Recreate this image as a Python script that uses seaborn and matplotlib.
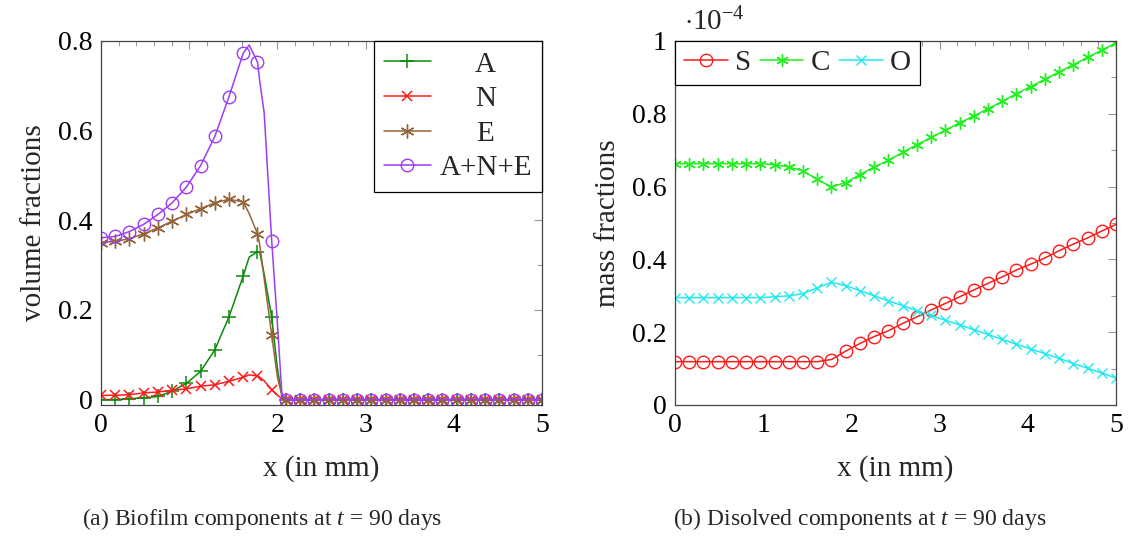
import numpy as np
import matplotlib
matplotlib.use('Agg')
import matplotlib.pyplot as plt
import seaborn as sns
from matplotlib.lines import Line2D

# marker positions shared by all series (32 points from 0 to 5 mm)
x_mark = [5 * i / 31 for i in range(32)]
zeros19 = [0.0] * 19

# (a) biofilm volume fractions at the markers
vol_A = [0.0, 0.0, 0.002, 0.004, 0.007, 0.019, 0.036, 0.063, 0.111, 0.185, 0.276, 0.330, 0.184] + zeros19
vol_N = [0.0096, 0.0096, 0.011, 0.015, 0.017, 0.021, 0.024, 0.030, 0.033, 0.041, 0.050, 0.053, 0.022] + zeros19
vol_E = [0.350, 0.353, 0.359, 0.370, 0.383, 0.398, 0.413, 0.426, 0.439, 0.447, 0.441, 0.370, 0.144] + zeros19
vol_T = [0.361, 0.364, 0.375, 0.391, 0.413, 0.439, 0.474, 0.522, 0.587, 0.676, 0.773, 0.753, 0.354] + zeros19

# extra curve points between markers (read where the curves bend)
extra_x = [1.68, 1.80, 1.85, 2.00, 2.05]
extra_A = [0.318, 0.328, 0.280, 0.070, 0.010]
extra_N = [0.055, 0.050, 0.042, 0.010, 0.002]
extra_E = [0.415, 0.345, 0.270, 0.050, 0.010]
extra_T = [0.791, 0.710, 0.640, 0.170, 0.015]

# (b) dissolved mass fractions, in units of 1e-4
mass_S = [0.119] * 11 + [0.125, 0.148, 0.169, 0.188, 0.204, 0.224, 0.242, 0.261, 0.279, 0.297,
                         0.316, 0.334, 0.352, 0.371, 0.387, 0.404, 0.424, 0.442, 0.459, 0.478, 0.496]
mass_C = [0.663] * 7 + [0.660, 0.654, 0.643, 0.620, 0.599, 0.611, 0.633, 0.654, 0.672, 0.694, 0.715,
                        0.735, 0.755, 0.775, 0.794, 0.814, 0.834, 0.855, 0.875, 0.895, 0.915, 0.935,
                        0.955, 0.975, 0.995]
mass_O = [0.295] * 7 + [0.297, 0.300, 0.306, 0.322, 0.337, 0.328, 0.314, 0.300, 0.286, 0.273, 0.259,
                        0.246, 0.233, 0.220, 0.207, 0.194, 0.180, 0.167, 0.154, 0.141, 0.128, 0.114,
                        0.101, 0.088, 0.074]

sns.set_theme(style='white')
plt.rcParams['font.family'] = ['Liberation Serif', 'DejaVu Serif']
plt.rcParams['mathtext.fontset'] = 'custom'
plt.rcParams['mathtext.rm'] = 'Liberation Serif'
plt.rcParams['mathtext.it'] = 'Liberation Serif:italic'

asterisk = (6, 2, 0)
FS = 20    # tick labels
LFS = 21   # axis labels and legends

fig = plt.figure(figsize=(11.31, 5.39), dpi=100)
ax1 = fig.add_axes([101 / 1131, 1 - 405 / 539, 441 / 1131, 364 / 539])
ax2 = fig.add_axes([675 / 1131, 1 - 405 / 539, 441 / 1131, 364 / 539])


def style_axes(ax):
    for s in ax.spines.values():
        s.set_color('#444444')
        s.set_linewidth(0.9)
    ax.tick_params(which='both', direction='in', top=True, right=True, color='#999999',
                   labelsize=FS, labelcolor='black')
    ax.tick_params(which='major', length=5.5, width=0.8, pad=6)
    ax.tick_params(which='minor', length=3.5, width=0.8)


def series(ax, xs, ys, ex, ey, color, marker, ms, mew):
    cx = list(xs) + list(ex)
    cy = list(ys) + list(ey)
    sns.lineplot(x=cx, y=cy, ax=ax, color=color, linewidth=1.1, sort=True, estimator=None)
    ax.plot(xs, ys, linestyle='none', marker=marker, ms=ms, mew=mew, mfc='none', mec=color)
    return Line2D([], [], color=color, lw=1.1, marker=marker, ms=ms, mew=mew, mfc='none', mec=color)


# ---------------- (a) ----------------
cA, cN, cE, cT = '#0a8a0a', '#ff1a1a', '#94643a', '#9d3cf5'
hA = series(ax1, x_mark, vol_A, extra_x, extra_A, cA, '+', 10, 1.1)
hN = series(ax1, x_mark, vol_N, extra_x, extra_N, cN, 'x', 7, 1.1)
hE = series(ax1, x_mark, vol_E, extra_x, extra_E, cE, asterisk, 10, 1.0)
hT = series(ax1, x_mark, vol_T, extra_x, extra_T, cT, 'o', 9, 1.0)

ax1.set_xlim(0, 5)
ax1.set_ylim(-0.012, 0.8)
ax1.set_xticks([0, 1, 2, 3, 4, 5])
ax1.set_xticks(np.arange(0, 5.01, 0.2), minor=True)
ax1.set_yticks([0, 0.2, 0.4, 0.6, 0.8])
ax1.set_yticklabels(['0', '0.2', '0.4', '0.6', '0.8'])
ax1.set_yticks(np.arange(0, 0.81, 0.1), minor=True)
style_axes(ax1)
ax1.set_xlabel('x (in mm)', fontsize=LFS, labelpad=12)
ax1.set_ylabel('volume fractions', fontsize=LFS, labelpad=8)

leg1 = ax1.legend([hA, hN, hE, hT], ['A', 'N', 'E', 'A+N+E'], loc='upper right',
                  bbox_to_anchor=(1.0, 1.0), fontsize=LFS, frameon=True, fancybox=False,
                  edgecolor='black', framealpha=1, borderaxespad=0, handlelength=1.6,
                  handletextpad=0.3, labelspacing=0.28, borderpad=0.35)
leg1.get_frame().set_linewidth(0.9)
fig.canvas.draw()
r = fig.canvas.get_renderer()
texts = leg1.get_texts()
widths = [t.get_window_extent(r).width for t in texts]
wmax = max(widths)
for t, w in zip(texts, widths):
    t.set_position(((wmax - w) / 2, 0))

# ---------------- (b) ----------------
cS, cC, cO = '#ff1a1a', '#22ee22', '#22e8f0'
hS = series(ax2, x_mark, mass_S, [], [], cS, 'o', 9, 1.0)
hC = series(ax2, x_mark, mass_C, [], [], cC, asterisk, 9, 1.0)
hO = series(ax2, x_mark, mass_O, [], [], cO, 'x', 6.5, 1.0)

ax2.set_xlim(0, 5)
ax2.set_ylim(0, 1)
ax2.set_xticks([0, 1, 2, 3, 4, 5])
ax2.set_xticks(np.arange(0, 5.01, 0.2), minor=True)
ax2.set_yticks([0, 0.2, 0.4, 0.6, 0.8, 1.0])
ax2.set_yticklabels(['0', '0.2', '0.4', '0.6', '0.8', '1'])
ax2.set_yticks(np.arange(0, 1.01, 0.1), minor=True)
style_axes(ax2)
ax2.set_xlabel('x (in mm)', fontsize=LFS, labelpad=12)
ax2.set_ylabel('mass fractions', fontsize=LFS, labelpad=8)
fig.text(684 / 1131, 1 - 30 / 539, r'$\cdot10^{-4}$', fontsize=LFS, ha='left', va='baseline')

leg2 = ax2.legend([hS, hC, hO], ['S', 'C', 'O'], loc='upper left', bbox_to_anchor=(0.0, 1.0),
                  ncol=3, fontsize=LFS, frameon=True, fancybox=False, edgecolor='black',
                  framealpha=1, borderaxespad=0, handlelength=1.5, handletextpad=0.25,
                  columnspacing=0.3, borderpad=0.3)
leg2.get_frame().set_linewidth(0.9)

# captions
fig.text(262 / 1131, 1 - 519 / 539, r'(a) Biofilm components at $t$ = 90 days', fontsize=17,
         ha='center', va='center')
fig.text(860 / 1131, 1 - 519 / 539, r'(b) Disolved components at $t$ = 90 days', fontsize=17,
         ha='center', va='center')

fig.savefig('out.png', dpi=100)
